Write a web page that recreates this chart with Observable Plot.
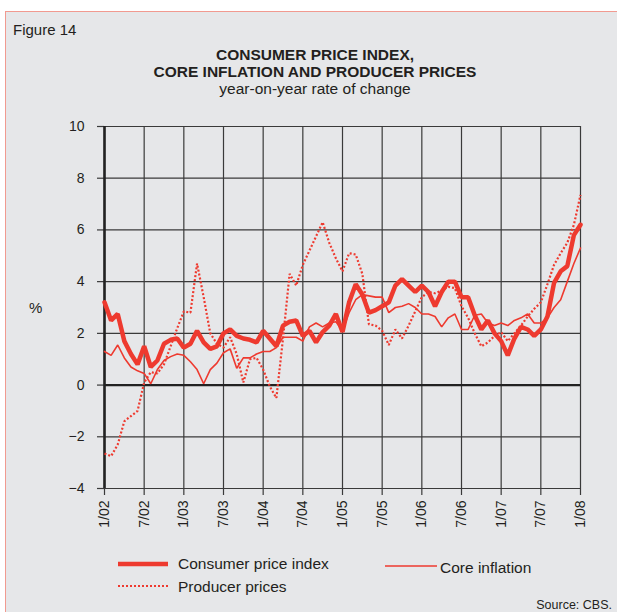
<!DOCTYPE html>
<html><head><meta charset="utf-8">
<script src="https://cdn.jsdelivr.net/npm/d3@7"></script>
<script src="https://cdn.jsdelivr.net/npm/@observablehq/plot@0.6"></script>
<style>
html,body{margin:0;padding:0;background:#fff;width:617px;height:612px;overflow:hidden;font-family:"Liberation Sans",Arial,sans-serif;color:#231f20;}
#fig{position:absolute;left:5px;top:11px;width:640px;height:640px;background:#e6e7e9;border:1px solid #f19a90;box-sizing:border-box;}
.txt{position:absolute;white-space:nowrap;}
#chart{position:absolute;left:0;top:100px;}
#legend{position:absolute;left:0;top:540px;}
</style></head><body>
<div id="fig"></div>
<div class="txt" style="left:13px;top:21px;font-size:15px;line-height:18px;">Figure 14</div>
<div class="txt" style="left:0;width:630px;top:46px;text-align:center;font-size:15.5px;line-height:17px;">
<div style="font-weight:bold">CONSUMER PRICE INDEX,</div>
<div style="font-weight:bold">CORE INFLATION AND PRODUCER PRICES</div>
<div>year-on-year rate of change</div>
</div>
<div class="txt" style="left:29px;top:299px;font-size:15px;line-height:18px;">%</div>
<div id="chart"></div>
<div id="legend"></div>
<script>
// month index 0 = 1/02 ... 72 = 1/08
const xTicks = [0, 6, 12, 18, 24, 30, 36, 42, 48, 54, 60, 66, 72];
const xLabels = ["1/02","7/02","1/03","7/03","1/04","7/04","1/05","7/05","1/06","7/06","1/07","7/07","1/08"];
const yTicks = [-4, -2, 0, 2, 4, 6, 8, 10];

const cpi = [3.2,2.5,2.75,1.7,1.2,0.8,1.5,0.7,0.95,1.6,
  1.75,1.8,1.45,1.6,2.1,1.65,1.4,1.5,2.0,2.15,
  1.9,1.8,1.75,1.65,2.1,1.8,1.5,2.3,2.45,2.5,
  1.9,2.1,1.65,2.05,2.3,2.75,2.05,3.2,3.9,3.5,
  2.8,2.9,3.05,3.2,3.85,4.1,3.85,3.6,3.85,3.6,
  3.05,3.6,4.0,4.0,3.4,3.4,2.7,2.15,2.5,2.0,
  1.7,1.15,1.8,2.25,2.15,1.9,2.15,2.65,3.95,4.4,
  4.6,5.8,6.2];
const core = [1.3,1.15,1.55,1.05,0.7,0.55,0.45,0.05,0.6,0.95,
  1.1,1.2,1.15,0.9,0.6,0.05,0.6,0.85,1.25,1.4,
  0.65,1.05,1.05,1.2,1.3,1.3,1.45,1.85,1.85,1.85,
  1.7,2.25,2.4,2.25,2.4,2.45,2.1,2.8,3.3,3.5,
  3.45,3.4,3.4,2.8,3.0,3.05,3.15,3.0,2.75,2.75,
  2.65,2.25,2.6,2.75,2.15,2.15,2.7,2.75,2.4,2.3,
  2.4,2.3,2.5,2.6,2.75,2.4,2.4,2.6,3.0,3.3,
  4.0,4.7,5.3];
const ppi = [-2.65,-2.75,-2.3,-1.4,-1.2,-1.0,0.1,0.5,0.45,0.8,
  1.5,2.2,2.85,2.8,4.7,3.4,2.0,1.6,1.45,1.85,
  1.2,0.1,1.0,1.05,0.6,-0.05,-0.5,1.8,4.3,3.85,
  4.65,5.2,5.75,6.3,5.5,4.9,4.4,5.1,5.05,4.3,
  2.35,2.3,2.1,1.55,2.15,1.8,2.3,2.85,3.4,3.6,
  3.55,3.65,3.8,3.75,3.05,2.6,2.0,1.5,1.65,1.9,
  2.05,1.7,2.0,2.3,2.65,2.95,3.2,3.9,4.65,5.1,
  5.5,6.2,7.35];

const red = "#ee3a2f";
const grid = "#3a3a3a";
const toPts = arr => arr.map((v, i) => ({m: i, v}));

const chart = Plot.plot({
  width: 617, height: 440,
  marginTop: 26, marginBottom: 52, marginLeft: 104, marginRight: 37,
  style: {background: "transparent", fontFamily: "Liberation Sans, Arial, sans-serif", fontSize: "14px", color: "#231f20", overflow: "visible"},
  x: {domain: [0, 72], axis: null},
  y: {domain: [-4, 10], axis: null},
  marks: [
    Plot.ruleY(yTicks, {stroke: grid, strokeWidth: 1.2}),
    Plot.ruleX(xTicks, {y1: -4, y2: 10, stroke: grid, strokeWidth: 1.2}),
    Plot.axisY({ticks: yTicks, label: null, tickSize: 7, tickPadding: 13, stroke: grid, strokeWidth: 1.2, strokeOpacity: 1, fontSize: 14}),
    Plot.axisX({ticks: xTicks, label: null, tickSize: 7, tickPadding: 5, tickRotate: -90, stroke: grid, strokeWidth: 1.2, strokeOpacity: 1, fontSize: 14,
      tickFormat: d => xLabels[xTicks.indexOf(d)]}),
    Plot.ruleY([0], {stroke: "#222", strokeWidth: 2.2}),
    Plot.ruleX([0], {y1: -4, y2: 10, stroke: "#222", strokeWidth: 2.6}),
    Plot.line(toPts(core), {x: "m", y: "v", stroke: red, strokeWidth: 1.6, strokeLinejoin: "miter"}),
    Plot.line(toPts(ppi), {x: "m", y: "v", stroke: red, strokeWidth: 2.2, strokeDasharray: "2,2", strokeLinecap: "butt", strokeLinejoin: "miter"}),
    Plot.line(toPts(cpi), {x: "m", y: "v", stroke: red, strokeWidth: 4.5, strokeLinejoin: "miter"})
  ]
});
document.getElementById("chart").appendChild(chart);

// legend
const series = ["Consumer price index", "Producer prices", "Core inflation"];
const ns = "http://www.w3.org/2000/svg";
const lg = document.createElementNS(ns, "svg");
lg.setAttribute("width", 617); lg.setAttribute("height", 72);
lg.style.fontFamily = "Liberation Sans, Arial, sans-serif";
function addLine(x1, x2, y, w, dash) {
  const l = document.createElementNS(ns, "line");
  l.setAttribute("x1", x1); l.setAttribute("x2", x2); l.setAttribute("y1", y); l.setAttribute("y2", y);
  l.setAttribute("stroke", red); l.setAttribute("stroke-width", w);
  if (dash) l.setAttribute("stroke-dasharray", dash);
  lg.appendChild(l);
}
function addText(x, y, s, size, anchor) {
  const t = document.createElementNS(ns, "text");
  t.setAttribute("x", x); t.setAttribute("y", y); t.setAttribute("font-size", size);
  t.setAttribute("fill", "#231f20"); t.setAttribute("dominant-baseline", "central");
  if (anchor) t.setAttribute("text-anchor", anchor);
  t.textContent = s; lg.appendChild(t);
}
addLine(118, 168, 24, 4.5);
addText(178, 23, series[0], 15.5);
addLine(118, 168, 46, 2, "2,2");
addText(178, 46, series[1], 15.5);
addLine(385, 437, 26, 1.6);
addText(440, 27, series[2], 15.5);
addText(612, 65, "Source: CBS.", 12.5, "end");
document.getElementById("legend").appendChild(lg);
</script>
</body></html>
